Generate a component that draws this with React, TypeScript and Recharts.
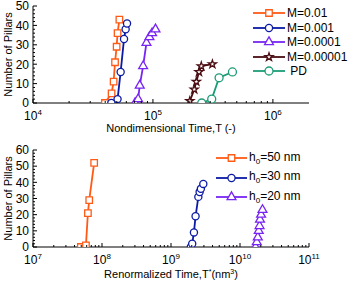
import { Label, Legend, Line, LineChart, Symbols, XAxis, YAxis } from "recharts";

const FONT = '"Liberation Sans", Arial, sans-serif';

// (a) nondimensional time T vs number of pillars
const tM1 = [39800, 45200, 47000, 48300, 49800, 50700, 52500];
const nM1 = [0, 5, 11, 21, 29, 36, 43];
const tM2 = [45000, 50700, 53800, 57400, 59200, 60800];
const nM2 = [0, 2, 16, 33, 38, 41];
const tM3 = [71000, 75200, 77600, 82800, 88300, 93500, 98400, 105000];
const nM3 = [0, 2, 9, 19, 31, 34, 36, 38];
const tM4 = [203000, 221000, 230000, 242000, 253000, 313000];
const nM4 = [1, 7, 11, 16, 19, 20];
const tPD = [255000, 309000, 356000, 460000];
const nPD = [0, 2, 13, 16];
const namesA = ["M=0.01", "M=0.001", "M=0.0001", "M=0.00001", " PD"];

// (b) renormalized time T* vs number of pillars
const tH50 = [4.94e7, 5.85e7, 6.25e7, 6.53e7, 7.7e7];
const nH50 = [0, 1, 21, 29, 52];
const tH30 = [1.94e9, 2.03e9, 2.15e9, 2.27e9, 2.49e9, 2.6e9, 2.71e9, 2.94e9];
const nH30 = [0, 2, 9, 19, 31, 34, 36, 39];
const tH20 = [1.68e10, 1.75e10, 1.81e10, 1.87e10, 1.92e10, 1.95e10, 2.02e10, 2.12e10];
const nH20 = [0, 3, 6, 10, 13, 17, 20, 23];
const thicknessB = [50, 30, 20];

// axes
const decadesA = [4, 5, 6];
const decadesB = [7, 8, 9, 10, 11];
const yMaxA = 50;
const yMaxB = 60;

const pts = (t: number[], n: number[]) => t.map((v, i) => ({ t: v, n: n[i] }));

const ORANGE = "#ff5a16";
const BLUE = "#0c1aa6";
const PURPLE = "#7824f2";
const BROWN = "#4a0d12";
const TEAL = "#1c9c76";

const seriesA = [
  { name: namesA[0], color: ORANGE, shape: "square", size: 42, data: pts(tM1, nM1) },
  { name: namesA[1], color: BLUE, shape: "circle", size: 40, data: pts(tM2, nM2) },
  { name: namesA[2], color: PURPLE, shape: "triangle", size: 34, data: pts(tM3, nM3) },
  { name: namesA[3], color: BROWN, shape: "star", size: 20, data: pts(tM4, nM4) },
  { name: namesA[4], color: TEAL, shape: "circle", size: 50, data: pts(tPD, nPD) },
];

const seriesB = [
  { color: ORANGE, shape: "square", size: 42, data: pts(tH50, nH50) },
  { color: BLUE, shape: "circle", size: 40, data: pts(tH30, nH30) },
  { color: PURPLE, shape: "triangle", size: 34, data: pts(tH20, nH20) },
];

// log ticks: decades plus 2..9 minors
function logTicks(decades: number[]) {
  const out: number[] = [];
  decades.forEach((e, i) => {
    const base = Math.pow(10, e);
    out.push(base);
    if (i < decades.length - 1) for (let k = 2; k <= 9; k++) out.push(k * base);
  });
  return out;
}
const linTicks = (max: number) => Array.from({ length: max / 2 + 1 }, (_, i) => i * 2);

const isDecade = (v: number) => Math.abs(Math.log10(v) - Math.round(Math.log10(v))) < 1e-9;

function XTick(props: any) {
  const { x, y, payload, top } = props;
  const major = isDecade(payload.value);
  const len = major ? 4 : 2;
  const e = Math.round(Math.log10(payload.value));
  return (
    <g>
      <line x1={x} x2={x} y1={y} y2={top ? y + len : y - len} stroke="#000" />
      {!top && major && (
        <text x={x} y={y + 17} textAnchor="middle" fontSize={12} fill="#000">
          10<tspan dy={-5} fontSize={8}>{e}</tspan>
        </text>
      )}
    </g>
  );
}

function YTick(props: any) {
  const { x, y, payload, right } = props;
  const major = payload.value % 10 === 0;
  const len = major ? 4 : 2;
  return (
    <g>
      <line x1={x} x2={right ? x - len : x + len} y1={y} y2={y} stroke="#000" />
      {!right && major && (
        <text x={x - 4} y={y + 4.3} textAnchor="end" fontSize={12} fill="#000">
          {payload.value}
        </text>
      )}
    </g>
  );
}

const marker = (shape: any, color: string, size: number) => (p: any) =>
  (
    <Symbols
      key={`m-${p.index}`}
      cx={p.cx}
      cy={p.cy}
      type={shape}
      size={size}
      fill="#fff"
      stroke={color}
      strokeWidth={1.3}
    />
  );

function LegendRow({ s, h, w, children }: any) {
  return (
    <div style={{ display: "flex", alignItems: "center", height: h }}>
      <svg width={w} height={14} style={{ overflow: "visible" }}>
        <line x1={0} x2={w} y1={7} y2={7} stroke={s.color} strokeWidth={1.8} />
        <Symbols cx={w / 2} cy={7} type={s.shape} size={s.size} fill="#fff" stroke={s.color} strokeWidth={1.3} />
      </svg>
      <span style={{ fontSize: 12, marginLeft: 2, whiteSpace: "pre", color: "#000" }}>{children}</span>
    </div>
  );
}

const LegendA = () => (
  <div style={{ paddingTop: 5.75, paddingLeft: 15, fontFamily: FONT }}>
    {seriesA.map((s) => (
      <LegendRow key={s.name} s={s} h={14.5} w={32}>
        {s.name}
      </LegendRow>
    ))}
  </div>
);

const LegendB = () => (
  <div style={{ fontFamily: FONT }}>
    {seriesB.map((s, i) => (
      <LegendRow key={i} s={s} h={19.5} w={31}>
        h<sub style={{ fontSize: 8 }}>0</sub>={thicknessB[i]} nm
      </LegendRow>
    ))}
  </div>
);

function Panel({ height, top, xDomain, decades, yMax, series, legend, legendStyle, tag, tagY, xTitle, xTitleY }: any) {
  const ticks = logTicks(decades);
  return (
    <LineChart width={351} height={height} margin={{ top, right: 351 - 309, left: 0, bottom: 0 }}>
      <XAxis
        type="number"
        dataKey="t"
        scale="log"
        domain={xDomain}
        allowDataOverflow
        ticks={ticks}
        interval={0}
        tickSize={0}
        tickMargin={0}
        tickLine={false}
        axisLine={{ stroke: "#000" }}
        height={height - top - 97}
        tick={(p: any) => <XTick {...p} />}
      >
        <Label
          content={() => (
            <text x={171} y={xTitleY} textAnchor="middle" fontSize={11} fill="#000">
              {xTitle}
            </text>
          )}
        />
      </XAxis>
      <XAxis
        xAxisId="top"
        orientation="top"
        type="number"
        scale="log"
        domain={xDomain}
        allowDataOverflow
        ticks={ticks}
        interval={0}
        tickSize={0}
        tickMargin={0}
        tickLine={false}
        axisLine={{ stroke: "#000" }}
        height={0}
        tick={(p: any) => <XTick {...p} top />}
      >
        <Label
          content={() => (
            <text x={49} y={tagY} fontSize={17} fill="#2141e0">
              {tag}
            </text>
          )}
        />
      </XAxis>
      <YAxis
        type="number"
        domain={[0, yMax]}
        allowDataOverflow
        ticks={linTicks(yMax)}
        interval={0}
        tickSize={0}
        tickMargin={0}
        tickLine={false}
        axisLine={{ stroke: "#000" }}
        width={33}
        tick={(p: any) => <YTick {...p} />}
      >
        <Label
          content={() => (
            <text
              x={12}
              y={top + 48.5}
              transform={`rotate(-90 12 ${top + 48.5})`}
              textAnchor="middle"
              fontSize={11}
              fill="#000"
            >
              Number of Pillars
            </text>
          )}
        />
      </YAxis>
      <YAxis
        yAxisId="r"
        orientation="right"
        type="number"
        domain={[0, yMax]}
        allowDataOverflow
        ticks={linTicks(yMax)}
        interval={0}
        tickSize={0}
        tickMargin={0}
        tickLine={false}
        axisLine={{ stroke: "#000" }}
        width={0}
        tick={(p: any) => <YTick {...p} right />}
      />
      {series.map((s: any, i: number) => (
        <Line
          key={i}
          data={s.data}
          dataKey="n"
          type="linear"
          stroke={s.color}
          strokeWidth={1.8}
          dot={marker(s.shape, s.color, s.size)}
          activeDot={false}
          isAnimationActive={false}
        />
      ))}
      <Legend
        layout="vertical"
        align="center"
        verticalAlign="middle"
        wrapperStyle={legendStyle}
        content={legend}
      />
    </LineChart>
  );
}

export default function App() {
  return (
    <div style={{ position: "absolute", left: 0, top: 0, width: 351, height: 282, background: "#fff", fontFamily: FONT }}>
      <Panel
        height={140}
        top={6}
        xDomain={[1e4, 2e6]}
        decades={decadesA}
        yMax={yMaxA}
        series={seriesA}
        legend={() => <LegendA />}
        legendStyle={{ left: 238, top: 0, width: 113, height: 85, background: "#fff" }}
        tag="(a)"
        tagY={25}
        xTitle="Nondimensional Time,T (-)"
        xTitleY={132}
      />
      <Panel
        height={142}
        top={10}
        xDomain={[1e7, 1e11]}
        decades={decadesB}
        yMax={yMaxB}
        series={seriesB}
        legend={() => <LegendB />}
        legendStyle={{ left: 216, top: 8.25, width: 92, height: 60 }}
        tag="(b)"
        tagY={30}
        xTitle={
          <>
            Renormalized Time,T<tspan dy={-4} fontSize={7}>*</tspan>
            <tspan dy={4}>(nm</tspan>
            <tspan dy={-4} fontSize={7}>3</tspan>
            <tspan dy={4}>)</tspan>
          </>
        }
        xTitleY={138}
      />
    </div>
  );
}
